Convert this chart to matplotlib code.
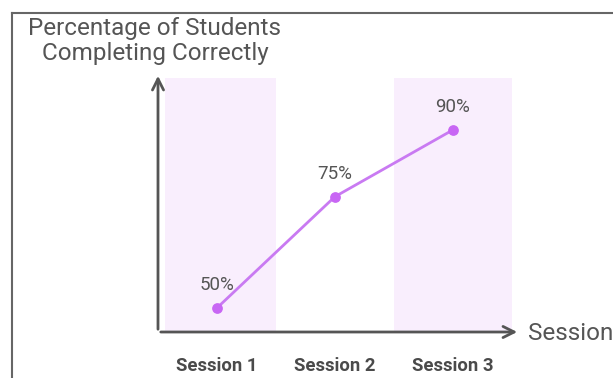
import matplotlib.pyplot as plt
from matplotlib.lines import Line2D

# data
sessions = ['Session 1', 'Session 2', 'Session 3']
percent_correct = [50, 75, 90]
shaded_sessions = [0, 2]

plt.rcParams['font.family'] = ['Roboto', 'DejaVu Sans']

fig = plt.figure(figsize=(6.13, 3.78), dpi=100)
W, H = 613, 378

# frame line on the left and top of the figure
fig.add_artist(Line2D([12 / W, 12 / W], [0, 1 - 13 / H], color='#666666', lw=1.5))
fig.add_artist(Line2D([12 / W, 1], [1 - 13 / H, 1 - 13 / H], color='#666666', lw=1.5))

# axes area in pixel terms: x 158..520, y 73..332 (from top)
ax = fig.add_axes([158 / W, 1 - 332 / H, (520 - 158) / W, (332 - 73) / H])
ax.set_xlim(-0.5, 2.57)
ax.set_ylim(44.6, 102.8)
for s in ax.spines.values():
    s.set_visible(False)
ax.set_xticks([])
ax.set_yticks([])
ax.patch.set_alpha(0)

# light bands behind sessions 1 and 3
for i in shaded_sessions:
    ax.axvspan(max(i - 0.5, -0.44), i + 0.5, ymin=0.005, ymax=(101.7 - 44.6) / (102.8 - 44.6),
               color='#f9eefd', zorder=0, lw=0)

# axis arrows
ax.annotate('', xy=(0, 1.0), xytext=(0, 0), xycoords='axes fraction',
            arrowprops=dict(arrowstyle='->', color='#555555', lw=2, mutation_scale=20))
ax.annotate('', xy=(1.0, 0), xytext=(0, 0), xycoords='axes fraction',
            arrowprops=dict(arrowstyle='->', color='#555555', lw=2, mutation_scale=20))

x = list(range(len(sessions)))
ax.plot(x, percent_correct, color='#c97af2', lw=2, zorder=3)
ax.scatter(x, percent_correct, s=45, color='#c866f4', zorder=4)

for xi, v in zip(x, percent_correct):
    ax.annotate(f'{v}%', (xi, v), xytext=(0, 16.5), textcoords='offset points',
                ha='center', va='center', fontsize=13.5, color='#555555')

for xi, name in zip(x, sessions):
    fig.text((217 + 118 * xi) / W, 1 - 366 / H, name, ha='center', va='center',
             fontsize=13.3, fontweight='bold', color='#4a4a4a')

fig.text(155 / W, 1 - 41 / H, 'Percentage of Students\nCompleting Correctly',
         ha='center', va='center', fontsize=17.5, color='#555555', linespacing=1.08)
fig.text(528 / W, 1 - 334 / H, 'Session', ha='left', va='center',
         fontsize=17.5, color='#555555')

fig.savefig('out.png', dpi=100)
